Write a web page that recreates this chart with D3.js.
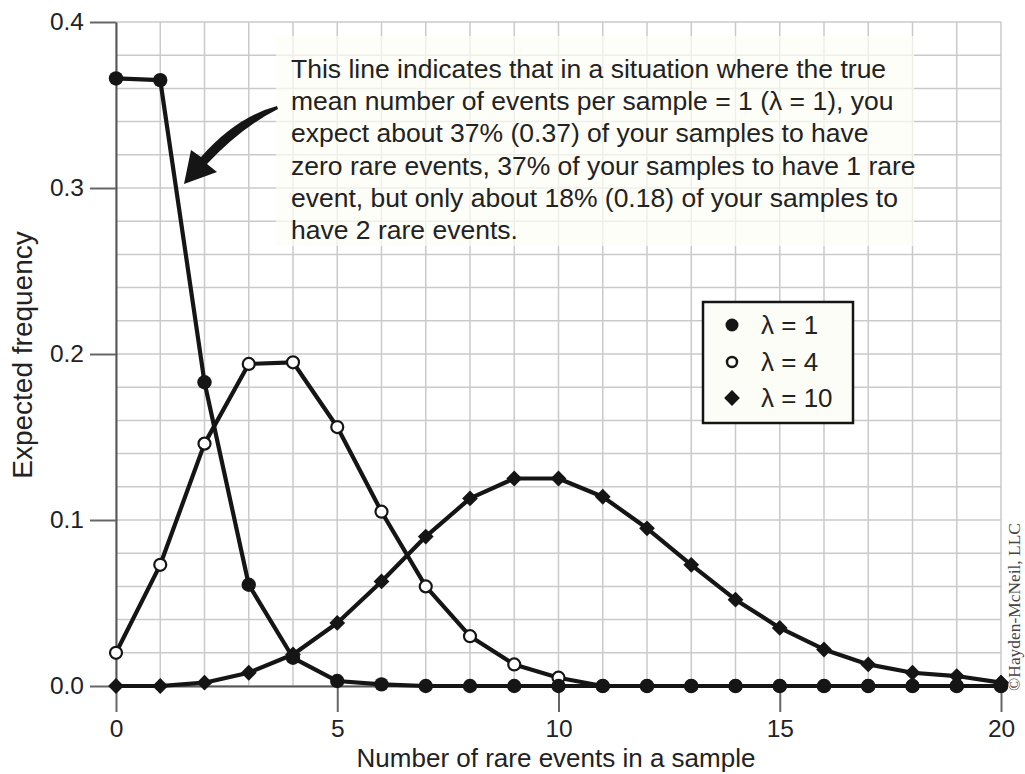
<!DOCTYPE html>
<html>
<head>
<meta charset="utf-8">
<script src="https://cdn.jsdelivr.net/npm/d3@7"></script>
<style>
  body { margin: 0; background: #fff; }
  svg { display: block; font-family: "Liberation Sans", Arial, sans-serif; }
</style>
</head>
<body>
<div id="chart"></div>
<script>
// counts of rare events per sample
var events = d3.range(0, 21);
// expected frequencies
var lambda1 = [0.366, 0.365, 0.183, 0.061, 0.017, 0.003, 0.001, 0, 0, 0, 0, 0, 0, 0, 0, 0, 0, 0, 0, 0, 0];
var lambda4 = [0.020, 0.073, 0.146, 0.194, 0.195, 0.156, 0.105, 0.060, 0.030, 0.013, 0.005, 0, 0, 0, 0, 0, 0, 0, 0, 0, 0];
var lambda10 = [0, 0, 0.002, 0.008, 0.019, 0.038, 0.063, 0.090, 0.113, 0.125, 0.125, 0.114, 0.095, 0.073, 0.052, 0.035, 0.022, 0.013, 0.008, 0.006, 0.002];

var xTicks = [0, 5, 10, 15, 20];
var yTicks = [0, 0.1, 0.2, 0.3, 0.4];
var legendLabels = ["\u03bb = 1", "\u03bb = 4", "\u03bb = 10"];
var noteLines = [
    "This line indicates that in a situation where the true",
    "mean number of events per sample = 1 (\u03bb = 1), you",
    "expect about 37% (0.37) of your samples to have",
    "zero rare events, 37% of your samples to have 1 rare",
    "event, but only about 18% (0.18) of your samples to",
    "have 2 rare events."
];

var width = 1025, height = 774;
var ink = "#151515";

var svg = d3.select("#chart").append("svg")
    .attr("width", width)
    .attr("height", height);

var x = d3.scaleLinear().domain([0, 20]).range([116, 1001]);
var y = d3.scaleLinear().domain([0, 0.4]).range([686, 22]);

// grid
svg.append("g").selectAll("line")
    .data(events)
    .enter().append("line")
    .attr("x1", function(d) { return x(d); })
    .attr("x2", function(d) { return x(d); })
    .attr("y1", y(0)).attr("y2", y(0.4))
    .attr("stroke", "#cacaca").attr("stroke-width", 1.5);

svg.append("g").selectAll("line")
    .data(d3.range(0, 21).map(function(i) { return i * 0.02; }))
    .enter().append("line")
    .attr("x1", x(0)).attr("x2", x(20))
    .attr("y1", function(d) { return y(d); })
    .attr("y2", function(d) { return y(d); })
    .attr("stroke", "#cacaca").attr("stroke-width", 1.5);

// pale box behind the note
svg.append("rect")
    .attr("x", 276).attr("y", 36)
    .attr("width", 638).attr("height", 210)
    .attr("fill", "#fdfdf5").attr("fill-opacity", 0.72);

// axes
var yAxis = svg.append("g")
    .attr("transform", "translate(" + x(0) + ",0)")
    .call(d3.axisLeft(y).tickValues(yTicks).tickFormat(d3.format(".1f"))
        .tickSize(26).tickSizeOuter(0).tickPadding(6));

var xAxis = svg.append("g")
    .attr("transform", "translate(0," + y(0) + ")")
    .call(d3.axisBottom(x).tickValues(xTicks).tickFormat(d3.format("d"))
        .tickSize(26).tickSizeOuter(0).tickPadding(8));

[xAxis, yAxis].forEach(function(a) {
    a.select(".domain").attr("stroke", "#555").attr("stroke-width", 2);
    a.selectAll(".tick line").attr("stroke", "#666").attr("stroke-width", 2);
    a.selectAll(".tick text")
        .attr("fill", "#222")
        .style("font-family", "'Liberation Sans', Arial, sans-serif")
        .style("font-size", "24.5px");
});

svg.append("text")
    .attr("x", 556).attr("y", 767)
    .attr("text-anchor", "middle")
    .attr("fill", "#222")
    .style("font-size", "26px")
    .text("Number of rare events in a sample");

svg.append("text")
    .attr("transform", "translate(32,355) rotate(-90)")
    .attr("text-anchor", "middle")
    .attr("fill", "#222")
    .style("font-size", "28px")
    .text("Expected frequency");

// series
var line = d3.line()
    .x(function(d, i) { return x(events[i]); })
    .y(function(d) { return y(d); });

function drawLine(values) {
    svg.append("path")
        .datum(values)
        .attr("d", line)
        .attr("fill", "none")
        .attr("stroke", ink)
        .attr("stroke-width", 4.2)
        .attr("stroke-linejoin", "round");
}

var diamond = d3.symbol().type(d3.symbolSquare).size(125);

drawLine(lambda10);
svg.append("g").selectAll("path")
    .data(lambda10)
    .enter().append("path")
    .attr("d", diamond)
    .attr("transform", function(d, i) { return "translate(" + x(events[i]) + "," + y(d) + ") rotate(45)"; })
    .attr("fill", ink);

drawLine(lambda4);
svg.append("g").selectAll("circle")
    .data(lambda4)
    .enter().append("circle")
    .attr("cx", function(d, i) { return x(events[i]); })
    .attr("cy", function(d) { return y(d); })
    .attr("r", 6)
    .attr("fill", "#fff")
    .attr("stroke", ink)
    .attr("stroke-width", 2.2);

drawLine(lambda1);
svg.append("g").selectAll("circle")
    .data(lambda1)
    .enter().append("circle")
    .attr("cx", function(d, i) { return x(events[i]); })
    .attr("cy", function(d) { return y(d); })
    .attr("r", 7.2)
    .attr("fill", ink);

// last diamond sits on top at 20
svg.append("path")
    .attr("d", diamond)
    .attr("transform", "translate(" + x(20) + "," + y(lambda10[20]) + ") rotate(45)")
    .attr("fill", ink);

// legend
var legend = svg.append("g").attr("transform", "translate(703,302)");
legend.append("rect")
    .attr("width", 150).attr("height", 121)
    .attr("fill", "#fdfdf8")
    .attr("stroke", ink).attr("stroke-width", 2.5);

legend.append("circle").attr("cx", 29).attr("cy", 23).attr("r", 6.5).attr("fill", ink);
legend.append("circle").attr("cx", 29).attr("cy", 60).attr("r", 5)
    .attr("fill", "#fff").attr("stroke", ink).attr("stroke-width", 2.5);
legend.append("path").attr("d", diamond)
    .attr("transform", "translate(29,96) rotate(45)").attr("fill", ink);

legend.selectAll("text")
    .data(legendLabels)
    .enter().append("text")
    .attr("x", 58)
    .attr("y", function(d, i) { return 32 + i * 36.5; })
    .attr("fill", "#222")
    .style("font-size", "26px")
    .text(function(d) { return d; });

// note and arrow
svg.append("g").selectAll("text")
    .data(noteLines)
    .enter().append("text")
    .attr("x", 291)
    .attr("y", function(d, i) { return 78 + i * 32.2; })
    .attr("fill", "#222")
    .style("font-size", "26.5px")
    .text(function(d) { return d; });

svg.append("path")
    .attr("d", "M277,106 Q236,117 201,157 L191,150 L184,184 L217,172 L207,164 Q242,127 278,109 Z")
    .attr("fill", ink);

svg.append("text")
    .attr("transform", "translate(1020,607) rotate(-90)")
    .attr("text-anchor", "middle")
    .attr("fill", "#444")
    .style("font-family", "'Liberation Serif', 'Times New Roman', serif")
    .style("font-size", "17.4px")
    .text("\u00a9Hayden-McNeil, LLC");
</script>
</body>
</html>
